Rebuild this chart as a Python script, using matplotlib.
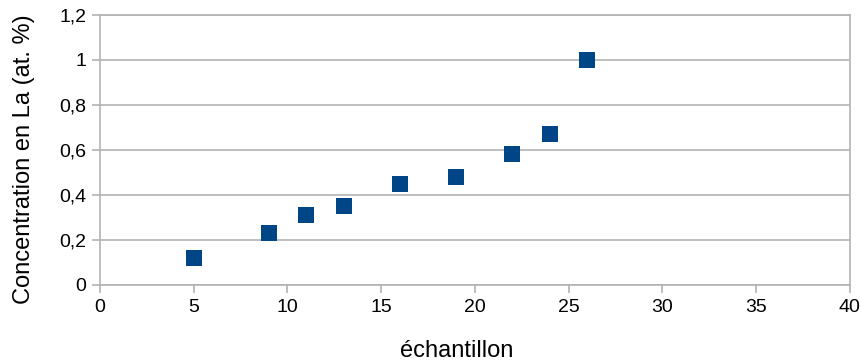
import numpy as np
import matplotlib
matplotlib.use("Agg")
import matplotlib.pyplot as plt
from matplotlib.ticker import FuncFormatter

# data
echantillon = [5, 9, 11, 13, 16, 19, 22, 24, 26]
concentration = [0.12, 0.23, 0.31, 0.35, 0.45, 0.48, 0.58, 0.67, 1.0]

plt.rcParams['font.family'] = ['Liberation Sans', 'DejaVu Sans']

fig = plt.figure(figsize=(8.62, 3.63), dpi=100)
ax = fig.add_axes([0.116, 0.215, 0.87, 0.744])

ax.scatter(echantillon, concentration, marker='s', s=11.5**2, color='#004586', zorder=3, linewidths=0)

ax.set_xlim(0, 40)
ax.set_ylim(0, 1.2)
ax.set_xticks(np.arange(0, 41, 5))
ax.set_yticks(np.arange(0, 1.21, 0.2))

# comma as decimal separator
def fmt(v, pos):
    s = ('%.1f' % v).rstrip('0').rstrip('.')
    return s.replace('.', ',')
ax.yaxis.set_major_formatter(FuncFormatter(fmt))

ax.grid(axis='y', color='#b3b3b3', linewidth=1.2)
ax.set_axisbelow(True)
for sp in ax.spines.values():
    sp.set_color('#b3b3b3')
    sp.set_linewidth(1.2)
ax.tick_params(axis='both', direction='out', length=6, width=1.2, color='#b3b3b3',
               labelsize=14, pad=4)

ax.set_xlabel('échantillon', fontsize=17)
ax.set_ylabel('Concentration en La (at. %)', fontsize=17)
ax.xaxis.set_label_coords(0.475, -0.205)
ax.yaxis.set_label_coords(-0.087, 0.467)

fig.savefig('out.png', dpi=100)
